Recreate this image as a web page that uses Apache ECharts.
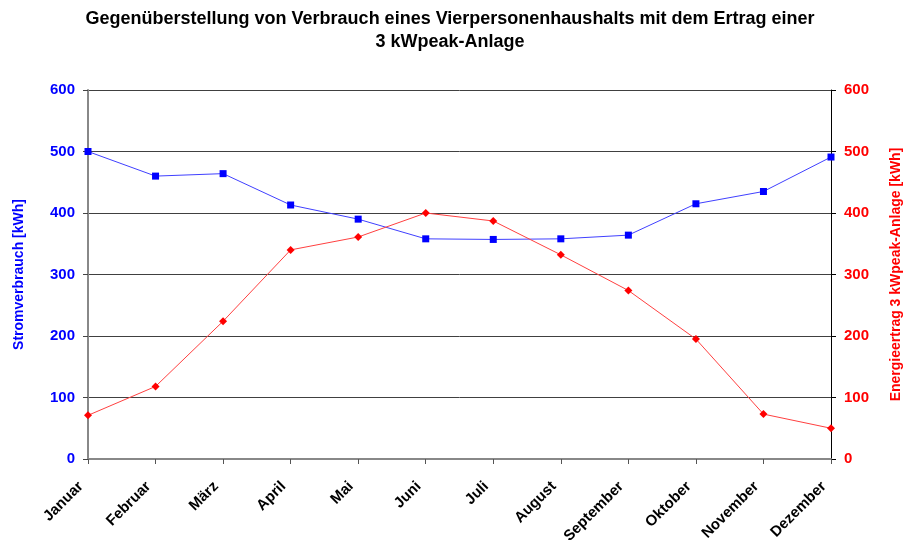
<!DOCTYPE html>
<html>
<head>
<meta charset="utf-8">
<script src="https://cdn.jsdelivr.net/npm/echarts@6/dist/echarts.min.js"></script>
<style>
  html, body { margin: 0; padding: 0; background: #fff; }
  #chart { width: 903px; height: 544px; }
</style>
</head>
<body>
<div id="chart"></div>
<script>
const months = ['Januar', 'Februar', 'März', 'April', 'Mai', 'Juni', 'Juli', 'August', 'September', 'Oktober', 'November', 'Dezember'];
// Stromverbrauch [kWh]
const verbrauch = [500, 460, 464, 413, 390, 358, 357, 358, 364, 415, 435, 491];
// Energieertrag 3 kWpeak-Anlage [kWh]
const ertrag = [71, 118, 224, 340, 361, 400, 387, 332, 274, 195, 73, 50];
const yTicks = [0, 100, 200, 300, 400, 500, 600];

const chart = echarts.init(document.getElementById('chart'));
const font = 'Liberation Sans, Arial, sans-serif';

const option = {
  animation: false,
  backgroundColor: '#fff',
  title: {
    text: 'Gegenüberstellung von Verbrauch eines Vierpersonenhaushalts mit dem Ertrag einer\n3 kWpeak-Anlage',
    left: 445,
    textAlign: 'center',
    top: 3,
    textStyle: {
      fontFamily: font,
      fontSize: 18,
      fontWeight: 'bold',
      color: '#000',
      lineHeight: 23
    }
  },
  grid: {
    left: 88,
    right: 72,
    top: 90,
    bottom: 85,
    containLabel: false,
    outerBoundsMode: 'none'
  },
  xAxis: {
    type: 'category',
    data: months,
    boundaryGap: false,
    axisLine: { lineStyle: { color: '#888', width: 2 } },
    axisTick: { show: true, length: 5, lineStyle: { color: '#555' } },
    axisLabel: {
      rotate: 45,
      margin: 18,
      padding: [0, 10, 0, 0],
      interval: 0,
      fontFamily: font,
      fontSize: 15,
      fontWeight: 'bold',
      color: '#000'
    },
    splitLine: { show: false }
  },
  yAxis: [
    {
      type: 'value',
      min: yTicks[0],
      max: yTicks[yTicks.length - 1],
      interval: 100,
      position: 'left',
      name: 'Stromverbrauch [kWh]',
      nameLocation: 'middle',
      nameGap: 62,
      nameTextStyle: {
        fontFamily: font,
        fontSize: 14,
        fontWeight: 'bold',
        color: '#0000ff'
      },
      axisLine: { show: true, lineStyle: { color: '#888', width: 2 } },
      axisTick: { show: true, length: 5, lineStyle: { color: '#444' } },
      axisLabel: {
        margin: 13,
        fontFamily: font,
        fontSize: 15,
        fontWeight: 'bold',
        color: '#0000ff'
      },
      splitLine: { show: true, lineStyle: { color: '#404040', width: 1 } }
    },
    {
      type: 'value',
      min: yTicks[0],
      max: yTicks[yTicks.length - 1],
      interval: 100,
      position: 'right',
      name: 'Energieertrag 3 kWpeak-Anlage [kWh]',
      nameLocation: 'middle',
      nameGap: 58,
      nameTextStyle: {
        fontFamily: font,
        fontSize: 14,
        fontWeight: 'bold',
        color: '#ff0000'
      },
      axisLine: { show: true, lineStyle: { color: '#000', width: 1 } },
      axisTick: { show: true, length: 5, lineStyle: { color: '#000' } },
      axisLabel: {
        margin: 13,
        fontFamily: font,
        fontSize: 15,
        fontWeight: 'bold',
        color: '#ff0000'
      },
      splitLine: { show: false }
    }
  ],
  series: [
    {
      name: 'Stromverbrauch',
      type: 'line',
      yAxisIndex: 0,
      data: verbrauch,
      symbol: 'rect',
      symbolSize: 7,
      lineStyle: { color: '#4040ff', width: 1 },
      itemStyle: { color: '#0000ff' }
    },
    {
      name: 'Energieertrag',
      type: 'line',
      yAxisIndex: 1,
      data: ertrag,
      symbol: 'diamond',
      symbolSize: 8,
      lineStyle: { color: '#ff4040', width: 1 },
      itemStyle: { color: '#ff0000' }
    }
  ]
};

chart.setOption(option);
</script>
</body>
</html>
